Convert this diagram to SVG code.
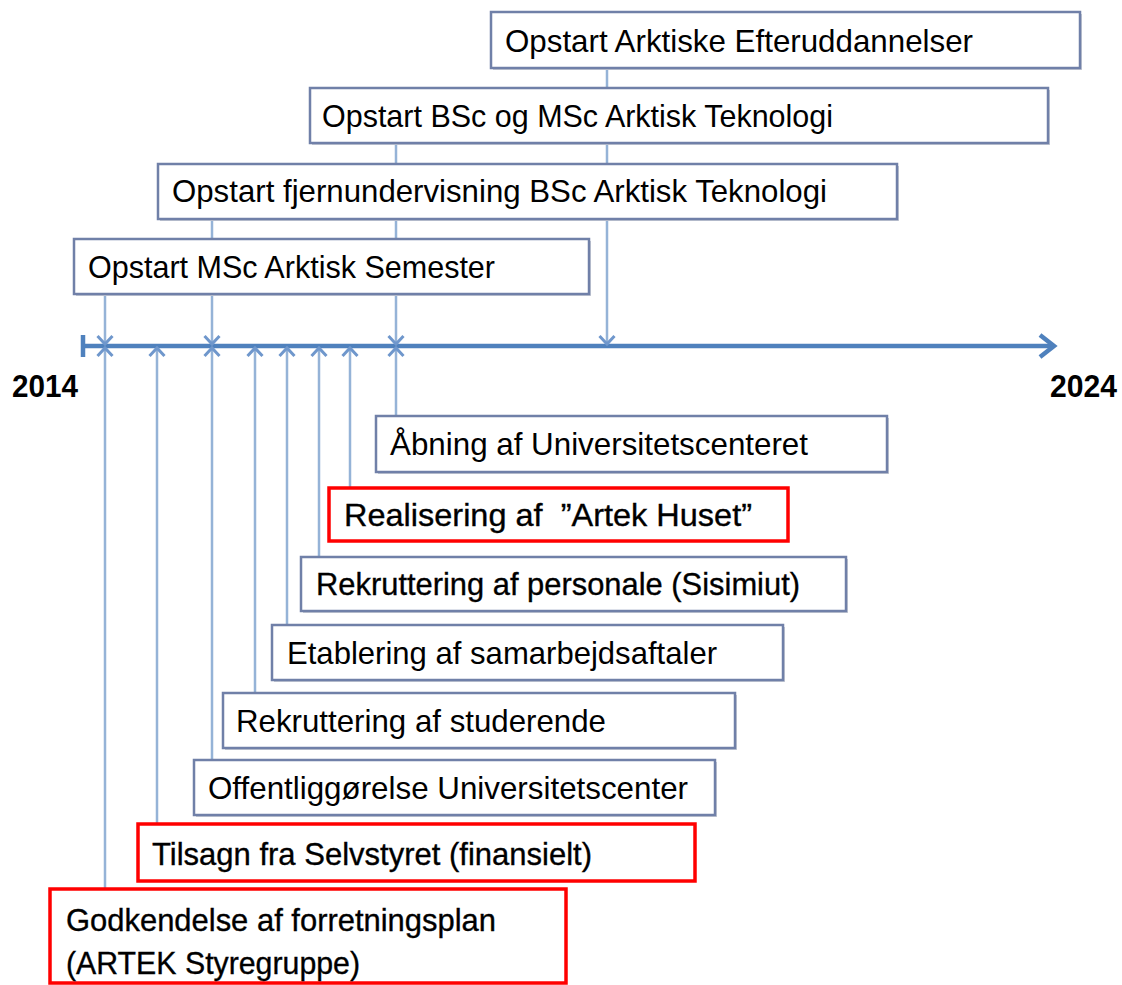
<svg xmlns="http://www.w3.org/2000/svg" width="1122" height="985" viewBox="0 0 1122 985">
<style>
.box{fill:#fff;stroke:#7080a8;stroke-width:2.5}
.red{fill:#fff;stroke:#ff0000;stroke-width:3.5}
.sh{fill:#c8ccd6;stroke:none}
.t{font-family:"Liberation Sans",Arial,sans-serif;font-size:32px;fill:#000}
.heavy{stroke:#000;stroke-width:0.35}
.yr{font-family:"Liberation Sans",Arial,sans-serif;font-size:32px;font-weight:bold;fill:#000}
.con{stroke:#95b3d7;stroke-width:2.5;fill:none}
.axis{stroke:#4f81bd;stroke-width:4.5;fill:none}
</style>
<defs>
<marker id="chev" markerUnits="userSpaceOnUse" markerWidth="22" markerHeight="22" viewBox="-11 -11 22 22" refX="0" refY="0" orient="auto">
<path d="M-8,-7.5 L0,0 L-8,7.5" fill="none" stroke="#6f97cc" stroke-width="3"/>
</marker>
</defs>
<g id="axis">
<line class="axis" x1="83" y1="346" x2="1054" y2="346"/>
<line class="axis" x1="83" y1="335" x2="83" y2="357" stroke-width="4"/>
<path class="axis" d="M1040,335 L1054,346 L1040,357" stroke-width="5.5"/>
<text class="yr" x="12" y="397" textLength="66" lengthAdjust="spacingAndGlyphs">2014</text>
<text class="yr" x="1050" y="397" textLength="67" lengthAdjust="spacingAndGlyphs">2024</text>
</g>
<g id="connectors">
<line class="con" x1="607" y1="69" x2="607" y2="344" marker-end="url(#chev)"/>
<line class="con" x1="396" y1="143" x2="396" y2="344" marker-end="url(#chev)"/>
<line class="con" x1="212" y1="219" x2="212" y2="344" marker-end="url(#chev)"/>
<line class="con" x1="105" y1="294" x2="105" y2="344" marker-end="url(#chev)"/>
<line class="con" x1="105" y1="888" x2="105" y2="348" marker-end="url(#chev)"/>
<line class="con" x1="157" y1="823" x2="157" y2="348" marker-end="url(#chev)"/>
<line class="con" x1="212" y1="759" x2="212" y2="348" marker-end="url(#chev)"/>
<line class="con" x1="255" y1="692" x2="255" y2="348" marker-end="url(#chev)"/>
<line class="con" x1="287" y1="624" x2="287" y2="348" marker-end="url(#chev)"/>
<line class="con" x1="319" y1="556" x2="319" y2="348" marker-end="url(#chev)"/>
<line class="con" x1="350" y1="487" x2="350" y2="348" marker-end="url(#chev)"/>
<line class="con" x1="396" y1="416" x2="396" y2="348" marker-end="url(#chev)"/>
</g>
<g id="n-efteruddannelser">
<rect class="sh" x="493" y="14" width="589" height="56"/>
<rect class="box" x="491" y="12" width="589" height="56"/>
<text class="t" x="505" y="52" textLength="468" lengthAdjust="spacingAndGlyphs">Opstart Arktiske Efteruddannelser</text>
</g>
<g id="n-bsc-msc">
<rect class="sh" x="312" y="90" width="738" height="55"/>
<rect class="box" x="310" y="88" width="738" height="55"/>
<text class="t" x="322" y="127" textLength="511" lengthAdjust="spacingAndGlyphs">Opstart BSc og MSc Arktisk Teknologi</text>
</g>
<g id="n-fjern">
<rect class="sh" x="160" y="166" width="739" height="55"/>
<rect class="box" x="158" y="164" width="739" height="55"/>
<text class="t" x="172" y="202" textLength="655" lengthAdjust="spacingAndGlyphs">Opstart fjernundervisning BSc Arktisk Teknologi</text>
</g>
<g id="n-semester">
<rect class="sh" x="76" y="241" width="515" height="55"/>
<rect class="box" x="74" y="239" width="515" height="55"/>
<text class="t" x="88" y="278" textLength="407" lengthAdjust="spacingAndGlyphs">Opstart MSc Arktisk Semester</text>
</g>
<g id="n-aabning">
<rect class="sh" x="378" y="418" width="511" height="56"/>
<rect class="box" x="376" y="416" width="511" height="56"/>
<text class="t" x="390" y="455" textLength="418" lengthAdjust="spacingAndGlyphs">Åbning af Universitetscenteret</text>
</g>
<g id="n-artek-huset">
<rect class="red" x="329" y="488" width="459" height="53"/>
<text class="t heavy" x="344" y="526" textLength="408" lengthAdjust="spacingAndGlyphs" xml:space="preserve">Realisering af  ”Artek Huset”</text>
</g>
<g id="n-personale">
<rect class="sh" x="303" y="559" width="545" height="54"/>
<rect class="box" x="301" y="557" width="545" height="54"/>
<text class="t heavy" x="316" y="595" textLength="484" lengthAdjust="spacingAndGlyphs">Rekruttering af personale (Sisimiut)</text>
</g>
<g id="n-samarbejde">
<rect class="sh" x="274" y="627" width="511" height="55"/>
<rect class="box" x="272" y="625" width="511" height="55"/>
<text class="t" x="287" y="664" textLength="430" lengthAdjust="spacingAndGlyphs">Etablering af samarbejdsaftaler</text>
</g>
<g id="n-studerende">
<rect class="sh" x="225" y="695" width="512" height="55"/>
<rect class="box" x="223" y="693" width="512" height="55"/>
<text class="t" x="236" y="732" textLength="370" lengthAdjust="spacingAndGlyphs">Rekruttering af studerende</text>
</g>
<g id="n-offentlig">
<rect class="sh" x="196" y="762" width="521" height="55"/>
<rect class="box" x="194" y="760" width="521" height="55"/>
<text class="t" x="208" y="799" textLength="480" lengthAdjust="spacingAndGlyphs">Offentliggørelse Universitetscenter</text>
</g>
<g id="n-tilsagn">
<rect class="red" x="138" y="824" width="557" height="57"/>
<text class="t heavy" x="152" y="865" textLength="440" lengthAdjust="spacingAndGlyphs">Tilsagn fra Selvstyret (finansielt)</text>
</g>
<g id="n-godkendelse">
<rect class="red" x="50" y="889" width="516" height="94"/>
<text class="t heavy" x="66" y="931" textLength="430" lengthAdjust="spacingAndGlyphs">Godkendelse af forretningsplan</text>
<text class="t heavy" x="66" y="974" textLength="294" lengthAdjust="spacingAndGlyphs">(ARTEK Styregruppe)</text>
</g>
</svg>
